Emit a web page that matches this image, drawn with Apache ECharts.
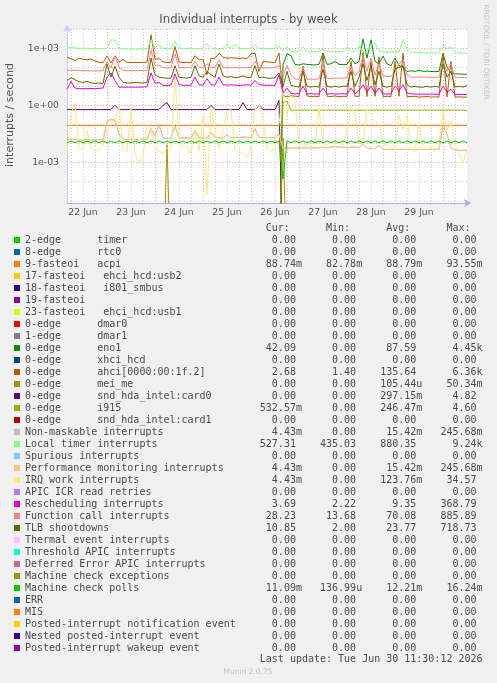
<!DOCTYPE html>
<html>
<head>
<meta charset="utf-8">
<title>Individual interrupts - by week</title>
<script src="https://cdn.jsdelivr.net/npm/echarts@6/dist/echarts.min.js"></script>
<style>
	html, body { margin: 0; padding: 0; background: #f0f0f0; }
	#chartDiv { width: 497px; height: 683px; }
</style>
</head>
<body>
<div id="chartDiv"></div>
<script>
	// x = hours since 22 Jun 00:00, one sample every 2 hours
	var hoursStart = 4;
	var stepHours = 2;
	var dayLabels = ['22 Jun', '23 Jun', '24 Jun', '25 Jun', '26 Jun', '27 Jun', '28 Jun', '29 Jun'];
	var labelHours = [12, 36, 60, 84, 108, 132, 156, 180];
	var midnightHours = [24, 48, 72, 96, 120, 144, 168, 192];
	var sixHourMarks = [6, 12, 18, 30, 36, 42, 54, 60, 66, 78, 84, 90, 102, 108, 114, 126, 132, 138,
		150, 156, 162, 174, 180, 186, 198];
	var yMajorTicks = [1e-3, 1, 1e3];
	var yMinorTicks = [1e-5, 1e-4, 1e-2, 1e-1, 10, 100, 1e4];

	var legendNames = ['2-edge      timer', '8-edge      rtc0', '9-fasteoi   acpi', '17-fasteoi   ehci_hcd:usb2',
		'18-fasteoi   i801_smbus', '19-fasteoi', '23-fasteoi   ehci_hcd:usb1', '0-edge      dmar0',
		'1-edge      dmar1', '0-edge      eno1', '0-edge      xhci_hcd', '0-edge      ahci[0000:00:1f.2]',
		'0-edge      mei_me', '0-edge      snd_hda_intel:card0', '0-edge      i915', '0-edge      snd_hda_intel:card1',
		'Non-maskable interrupts', 'Local timer interrupts', 'Spurious interrupts', 'Performance monitoring interrupts',
		'IRQ work interrupts', 'APIC ICR read retries', 'Rescheduling interrupts', 'Function call interrupts',
		'TLB shootdowns', 'Thermal event interrupts', 'Threshold APIC interrupts', 'Deferred Error APIC interrupts',
		'Machine check exceptions', 'Machine check polls', 'ERR', 'MIS', 'Posted-interrupt notification event',
		'Nested posted-interrupt event', 'Posted-interrupt wakeup event'];
	var legendColors = ['#00CC00', '#0066B3', '#FF8000', '#FFCC00', '#330099', '#990099', '#CCFF00', '#FF0000',
		'#808080', '#008F00', '#00487D', '#B35A00', '#B38F00', '#6B006B', '#8FB300', '#B30000', '#BEBEBE',
		'#80FF80', '#80C9FF', '#FFC080', '#FFE680', '#AA80FF', '#EE00CC', '#FF8080', '#666600', '#FFBFFF',
		'#00FFCC', '#CC6699', '#999900', '#00CC00', '#0066B3', '#FF8000', '#FFCC00', '#330099', '#990099'];
	var curVals = ['0.00', '0.00', '88.74m', '0.00', '0.00', '0.00', '0.00', '0.00', '0.00', '42.09', '0.00', '2.68',
		'0.00', '0.00', '532.57m', '0.00', '4.43m', '527.31', '0.00', '4.43m', '4.43m', '0.00', '3.69', '28.23',
		'10.85', '0.00', '0.00', '0.00', '0.00', '11.09m', '0.00', '0.00', '0.00', '0.00', '0.00'];
	var minVals = ['0.00', '0.00', '82.78m', '0.00', '0.00', '0.00', '0.00', '0.00', '0.00', '0.00', '0.00', '1.40',
		'0.00', '0.00', '0.00', '0.00', '0.00', '435.03', '0.00', '0.00', '0.00', '0.00', '2.22', '13.68',
		'2.00', '0.00', '0.00', '0.00', '0.00', '136.99u', '0.00', '0.00', '0.00', '0.00', '0.00'];
	var avgVals = ['0.00', '0.00', '88.79m', '0.00', '0.00', '0.00', '0.00', '0.00', '0.00', '87.59', '0.00', '135.64',
		'105.44u', '297.15m', '246.47m', '0.00', '15.42m', '880.35', '0.00', '15.42m', '123.76m', '0.00', '9.35',
		'70.08', '23.77', '0.00', '0.00', '0.00', '0.00', '12.21m', '0.00', '0.00', '0.00', '0.00', '0.00'];
	var maxVals = ['0.00', '0.00', '93.55m', '0.00', '0.00', '0.00', '0.00', '0.00', '0.00', '4.45k', '0.00', '6.36k',
		'50.34m', '4.82', '4.60', '0.00', '245.68m', '9.24k', '0.00', '245.68m', '34.57', '0.00', '368.79',
		'885.89', '718.73', '0.00', '0.00', '0.00', '0.00', '16.24m', '0.00', '0.00', '0.00', '0.00', '0.00'];

	var acpiVals = [0.089, 0.089, 0.088, 0.089, 0.089, 0.089, 0.088, 0.089, 0.089, 0.089,
		0.089, 0.088, 0.089, 0.089, 0.089, 0.089, 0.089, 0.088, 0.089, 0.089,
		0.089, 0.089, 0.089, 0.088, 0.089, 0.089, 0.089, 0.089, 0.089, 0.088,
		0.089, 0.089, 0.089, 0.089, 0.088, 0.089, 0.089, 0.089, 0.089, 0.089,
		0.088, 0.089, 0.089, 0.089, 0.089, 0.089, 0.088, 0.089, 0.089, 0.089,
		0.089, 0.089, 0.088, 0.089, 0.089, 0.089, 0.089, 0.089, 0.088, 0.089,
		0.089, 0.089, 0.089, 0.089, 0.088, 0.089, 0.089, 0.089, 0.089, 0.089,
		0.088, 0.089, 0.089, 0.089, 0.089, 0.089, 0.088, 0.089, 0.089, 0.089,
		0.089, 0.089, 0.088, 0.089, 0.089, 0.089, 0.089, 0.089, 0.088, 0.089,
		0.089, 0.089, 0.089, 0.089, 0.088, 0.089, 0.089, 0.089, 0.089, 0.089,
		0.0887];
	var enoVals = [0, 0, 0, 0, 0, 0, 0, 0, 0, 0,
		0, 0, 0, 0, 0, 0, 0, 0, 0, 0,
		0, 0, 0, 0, 0, 0, 0, 0, 0, 0,
		0, 0, 0, 0, 0, 0, 0, 0, 0, 0,
		0, 0, 0, 0, 0, 0, 0, 0, 0, 0,
		0, 0, 0, 0, 130, 500, 400, 140, 130, 150,
		140, 135, 130, 140, 550, 140, 150, 200, 140, 135,
		140, 300, 150, 200, 3000, 300, 2700, 200, 150, 380,
		150, 120, 300, 120, 100, 60, 65, 60, 70, 60,
		62, 60, 58, 60, 500, 100, 50, 45, 44, 43,
		42.09];
	var ahciVals = [330, 280, 220, 300, 260, 240, 270, 210, 180, 170,
		390, 170, 380, 190, 250, 180, 175, 180, 175, 180,
		180, 5000, 260, 280, 190, 175, 180, 1200, 190, 175,
		180, 170, 400, 240, 250, 40, 300, 290, 550, 330,
		300, 310, 300, 290, 300, 280, 500, 550, 60, 200,
		190, 180, 170, 550, 3.2, 2.8, 3.2, 3.0, 2.9, 110,
		3.1, 2.9, 3.0, 2.8, 550, 3.0, 2.9, 3.1, 2.8, 3.0,
		2.9, 200, 3.0, 2.9, 600, 2.9, 200, 3.0, 350, 2.8,
		3.0, 2.9, 200, 3.0, 550, 2.8, 2.9, 3.0, 2.7, 2.8,
		2.9, 2.7, 2.8, 2.7, 550, 2.8, 200, 2.7, 2.8, 2.7,
		2.68];
	var meiVals = [0, 0, 0, 0, 0, 0, 0, 0, 0, 0,
		0, 0, 0, 0, 0, 0, 0, 0, 0, 0,
		0, 0, 0, 0, 0, 0.0087, 0, 0, 0, 0,
		0, 0, 0, 0, 0, 0, 0, 0, 0, 0,
		0, 0, 0, 0, 0, 0, 0, 0, 0, 0,
		0, 0, 0, 0, 0.02, 0, 0, 0, 0, 0,
		0, 0, 0, 0, 0, 0, 0, 0, 0, 0,
		0, 0, 0, 0, 0, 0, 0, 0, 0, 0,
		0, 0, 0, 0, 0, 0, 0, 0, 0, 0,
		0, 0, 0, 0, 0, 0, 0, 0, 0, 0,
		0];
	var card0Vals = [0.6, 0.6, 0.6, 0.6, 0.6, 0.6, 0.6, 0.6, 0.6, 0.6,
		0.6, 0.6, 1.0, 0.6, 0.6, 0.6, 0.6, 0.6, 0.6, 0.6,
		0.6, 0.6, 0.6, 0.6, 1.0, 1.4, 0.6, 0.6, 0.6, 0.6,
		0.6, 0.6, 0.6, 0.6, 0.6, 0.6, 1.0, 0.6, 0.6, 0.6,
		0.6, 0.6, 0.6, 0.6, 1.4, 0.6, 0.6, 0.6, 1.0, 0.6,
		0.6, 0.6, 0.6, 1.8, 0, 0, 0, 0, 0, 0,
		0, 0, 0, 0, 0, 0, 0, 0, 0, 0,
		0, 0, 0, 0, 0, 0, 0, 0, 0, 0,
		0, 0, 0, 0, 0, 0, 0, 0, 0, 0,
		0, 0, 0, 0, 0, 0, 0, 0, 0, 0,
		0];
	var i915Vals = [0, 0, 0, 0, 0, 0, 0, 0, 0, 0,
		0, 0, 0, 0, 0, 0, 0, 0, 0, 0,
		0, 0, 0, 0, 0, 0, 0, 0, 0, 0,
		0, 0, 0, 0, 0, 0, 0, 0, 0, 0,
		0, 0, 0, 0, 0, 0, 0, 0, 0, 0,
		0, 0, 0, 0, 1.4, 1.6, 0.56, 0.56, 0.56, 0.56,
		0.56, 0.56, 0.56, 0.56, 0.56, 0.56, 0.56, 0.56, 0.56, 0.56,
		0.56, 0.56, 0.56, 0.56, 0.56, 0.56, 0.56, 0.56, 0.56, 0.56,
		0.56, 0.56, 0.56, 0.56, 0.56, 0.56, 0.56, 0.56, 0.56, 0.56,
		0.56, 0.56, 0.56, 0.56, 0.56, 0.56, 0.56, 0.56, 0.56, 0.56,
		0.53];
	// NMI and performance monitoring counts are identical
	var pmiVals = [0.016, 0.017, 0.016, 0.016, 0.015, 0.016, 0.016, 0.015, 0.016, 0.016,
		0.15, 0.18, 0.17, 0.03, 0.017, 0.016, 0.017, 0.016, 0.016, 0.017,
		0.016, 0.06, 0.025, 0.1, 0.02, 0.018, 0.019, 0.08, 0.02, 0.019,
		0.02, 0.019, 0.05, 0.02, 0.019, 0.02, 0.04, 0.022, 0.02, 0.019,
		0.03, 0.02, 0.021, 0.02, 0.022, 0.021, 0.02, 0.06, 0.02, 0.021,
		0.02, 0.021, 0.02, 0.03, 0.006, 0.006, 0.0055, 0.006, 0.0058, 0.006,
		0.0056, 0.006, 0.0058, 0.006, 0.0062, 0.006, 0.0065, 0.007, 0.0065, 0.0065,
		0.006, 0.0065, 0.0065, 0.006, 0.009, 0.006, 0.0055, 0.0055, 0.008, 0.005,
		0.0048, 0.005, 0.0048, 0.005, 0.005, 0.0048, 0.005, 0.0046, 0.005, 0.0048,
		0.005, 0.0048, 0.005, 0.0047, 0.1, 0.03, 0.006, 0.0046, 0.0045, 0.0044,
		0.0044];
	var locVals = [1000, 1150, 1000, 990, 980, 970, 950, 940, 930, 920,
		950, 2700, 2600, 1000, 920, 910, 900, 900, 890, 900,
		900, 2700, 1050, 1500, 960, 940, 950, 2200, 1000, 960,
		950, 960, 950, 960, 950, 1700, 980, 960, 950, 960,
		1500, 960, 1600, 960, 950, 960, 950, 1500, 960, 950,
		960, 950, 960, 1300, 700, 1200, 660, 650, 655, 1150,
		650, 645, 650, 660, 900, 650, 655, 640, 650, 660,
		1100, 640, 660, 1300, 700, 650, 1600, 1900, 700, 620,
		640, 630, 650, 620, 2800, 900, 580, 570, 565, 560,
		560, 565, 555, 560, 1500, 900, 1200, 560, 550, 540,
		530];
	var iwiVals = [0.003, 0.35, 1.3, 0.006, 0.005, 0.05, 0.006, 0.004, 0.005, 0.007,
		0.05, 0.15, 0.15, 1.0, 0.005, 0.004, 0.8, 0.003, 0.001, 0.002,
		0.1, 0.06, 0.008, 0.004, 0.003, 0.006, 0.004, 30, 0.02, 0.005,
		0.008, 0.003, 0.05, 0.004, 0.3, 0.00002, 0.7, 0.05, 0.006, 0.05,
		0.5, 0.6, 0.005, 0.004, 0.003, 0.002, 0.006, 0.6, 1.2, 0.2,
		0.006, 0.004, 0.005, 0.1, 8, 0.3, 6, 1.5, 0.01, 0.008,
		0.009, 0.006, 0.008, 0.7, 0.01, 0.008, 0.015, 0.009, 0.012, 0.008,
		0.05, 0.8, 0.4, 0.01, 0.009, 0.6, 0.3, 0.15, 0.1, 0.01,
		0.008, 0.005, 0.007, 0.3, 0.05, 0.3, 0.006, 0.004, 0.1, 0.008,
		0.005, 0.006, 0.004, 0.007, 0.5, 0.05, 0.15, 0.008, 0.003, 0.001,
		0.0044];
	var resVals = [7, 18, 8, 7.5, 7.5, 7.5, 7.6, 7.5, 7.8, 8,
		30, 50, 20, 9, 9, 9, 9, 9, 9, 9,
		9.5, 50, 14, 16, 11, 11, 11.5, 45, 12, 11.5,
		11, 11.5, 30, 12, 11.5, 25, 12, 11.5, 30, 12,
		11.5, 12, 11.5, 11, 11.5, 12, 11.5, 20, 12, 11.5,
		11, 11.5, 11, 40, 4.5, 8, 4.2, 4.0, 4.2, 10,
		4.0, 4.1, 3.9, 4.0, 8, 4.0, 4.1, 3.9, 4.0, 4.1,
		3.9, 8, 4.0, 6, 12, 5, 10, 4.2, 8, 4.0,
		3.9, 4.0, 10, 6, 12, 4.5, 4.0, 3.9, 3.8, 3.9,
		3.8, 3.9, 3.8, 3.8, 10, 5, 7, 3.8, 3.7, 3.7,
		3.69];
	var calVals = [72, 70, 68, 66, 66, 65, 64, 65, 64, 66,
		200, 90, 400, 100, 68, 66, 66, 65, 66, 66,
		66, 800, 120, 130, 95, 92, 94, 500, 98, 95,
		94, 95, 200, 96, 95, 150, 97, 96, 250, 95,
		94, 96, 95, 94, 95, 96, 94, 200, 95, 94,
		93, 92, 94, 120, 35, 120, 40, 24, 23, 100,
		23, 24, 23, 24, 150, 26, 25, 27, 26, 27,
		28, 110, 35, 60, 400, 60, 300, 40, 150, 35,
		33, 32, 60, 150, 250, 40, 30, 30, 31, 30,
		30, 29, 30, 29, 200, 60, 150, 30, 29, 28,
		28.23];
	var tlbVals = [20, 28, 22, 17, 16, 18, 15, 14, 15, 14,
		150, 30, 110, 30, 16, 15, 15, 16, 15, 15,
		16, 300, 40, 30, 28, 26, 27, 120, 30, 28,
		27, 30, 120, 35, 30, 60, 40, 30, 150, 35,
		30, 32, 28, 30, 35, 28, 30, 120, 28, 30,
		27, 26, 28, 50, 10, 60, 11, 10, 9, 60,
		10, 9, 10, 9, 80, 10, 9, 10, 9, 10,
		10, 60, 10, 30, 150, 20, 120, 12, 60, 10,
		9, 10, 80, 100, 120, 12, 9, 10, 9, 9,
		10, 9, 10, 9, 150, 30, 60, 9, 10, 9,
		10.85];
	var mcpVals = [0.011, 0.0135, 0.011, 0.0135, 0.011, 0.0135, 0.011, 0.0135, 0.011, 0.0135,
		0.011, 0.0135, 0.011, 0.0135, 0.011, 0.0135, 0.011, 0.0135, 0.011, 0.0135,
		0.011, 0.0135, 0.011, 0.0135, 0.011, 0.0135, 0.011, 0.0135, 0.011, 0.0135,
		0.011, 0.0135, 0.011, 0.0135, 0.011, 0.0135, 0.011, 0.0135, 0.011, 0.0135,
		0.011, 0.0135, 0.011, 0.0135, 0.011, 0.0135, 0.011, 0.0135, 0.011, 0.0135,
		0.011, 0.0135, 0.011, 0.0135, 0.00014, 0.0135, 0.011, 0.0135, 0.011, 0.0135,
		0.011, 0.0135, 0.011, 0.0135, 0.011, 0.0135, 0.011, 0.0135, 0.011, 0.0135,
		0.011, 0.0135, 0.011, 0.0135, 0.011, 0.0135, 0.011, 0.0135, 0.011, 0.0135,
		0.011, 0.0135, 0.011, 0.0135, 0.011, 0.0135, 0.011, 0.0135, 0.011, 0.0135,
		0.011, 0.0135, 0.011, 0.0135, 0.011, 0.0135, 0.011, 0.0135, 0.011, 0.0135,
		0.0111];

	// legend index -> values; every other counter stayed at 0 all week
	var seriesVals = {2: acpiVals, 9: enoVals, 11: ahciVals, 12: meiVals, 13: card0Vals, 14: i915Vals,
		16: pmiVals, 17: locVals, 19: pmiVals, 20: iwiVals, 22: resVals, 23: calVals, 24: tlbVals, 29: mcpVals};

	var FLOOR = 1e-9; // a zero sits below the log axis, rrdtool draws it at the bottom edge
	var monoFont = 'DejaVu Sans Mono';
	var textColor = '#4a4a4a';

	function valField(s) {
		var last = s.charAt(s.length - 1);
		if (/[a-z]/i.test(last)) {
			return s.slice(0, -1).padStart(9) + last;
		}
		return s.padStart(9) + ' ';
	}
	function expLabel(v) {
		var e = Math.round(Math.log10(v));
		return '1e' + (e < 0 ? '-' : '+') + String(Math.abs(e)).padStart(2, '0');
	}

	var series = legendNames.map(function(name, k) {
		var vals = seriesVals[k] || [];
		return {
			name: name,
			type: 'line',
			xAxisIndex: 0,
			yAxisIndex: 0,
			color: legendColors[k],
			showSymbol: false,
			symbol: 'none',
			clip: true,
			lineStyle: { width: 1, color: legendColors[k] },
			emphasis: { disabled: true },
			data: vals.map(function(v, i) {
				return [hoursStart + stepHours * i, v > 0 ? v : FLOOR];
			})
		};
	});

	var chart = echarts.init(document.getElementById('chartDiv'), null, { renderer: 'canvas' });
	chart.setOption({
		animation: false,
		backgroundColor: '#f0f0f0',
		title: {
			text: 'Individual interrupts - by week',
			left: 'center',
			top: 13.5,
			padding: 0,
			textStyle: { fontFamily: 'DejaVu Sans', fontSize: 11.7, fontWeight: 'normal', color: '#555' }
		},
		grid: {
			left: 67, right: 30, top: 29, bottom: 480,
			show: true, backgroundColor: '#ffffff', borderWidth: 0
		},
		xAxis: [{
			type: 'value', min: 4, max: 204, position: 'bottom',
			axisLine: { show: true, lineStyle: { color: '#b7a6ea', width: 1 },
				symbol: ['none', 'arrow'], symbolSize: [6, 7], symbolOffset: [0, 4] },
			axisTick: { show: false, customValues: sixHourMarks },
			splitLine: { show: true, lineStyle: { color: '#c9c9c9', type: [1, 2], width: 1 } },
			axisLabel: {
				customValues: labelHours,
				margin: 5,
				fontFamily: 'DejaVu Sans', fontSize: 9.3, color: '#555',
				formatter: function(v) { return dayLabels[labelHours.indexOf(v)] || ''; }
			}
		}, {
			type: 'value', min: 4, max: 204, position: 'top',
			axisLine: { show: false },
			axisTick: { show: false, customValues: midnightHours },
			axisLabel: { show: false },
			splitLine: { show: true, lineStyle: { color: '#ef9f9f', type: [1, 2], width: 1 } }
		}],
		yAxis: [{
			type: 'log', logBase: 10, min: Math.pow(10, -5.115), max: 1e4, position: 'left',
			axisLine: { show: true, lineStyle: { color: '#c5cdf5', width: 1 },
				symbol: ['none', 'arrow'], symbolSize: [6, 7], symbolOffset: [0, 4] },
			axisTick: { show: false, customValues: yMajorTicks },
			splitLine: { show: true, lineStyle: { color: '#ef9f9f', type: [1, 2], width: 1 } },
			axisLabel: {
				customValues: yMajorTicks,
				margin: 8,
				fontFamily: 'DejaVu Sans', fontSize: 9.3, color: '#555',
				formatter: function(v) { return expLabel(v); }
			}
		}, {
			type: 'log', logBase: 10, min: Math.pow(10, -5.115), max: 1e4, position: 'right',
			axisLine: { show: false },
			axisTick: { show: false, customValues: yMinorTicks },
			axisLabel: { show: false },
			splitLine: { show: true, lineStyle: { color: '#c9c9c9', type: [1, 2], width: 1 } }
		}],
		legend: {
			orient: 'vertical',
			left: 14,
			top: 234,
			itemGap: 0,
			itemWidth: 6,
			itemHeight: 6,
			icon: 'rect',
			selectedMode: false,
			padding: 0,
			data: legendNames,
			textStyle: { fontFamily: monoFont, fontSize: 10, color: textColor, lineHeight: 12 },
			formatter: function(name) {
				var k = legendNames.indexOf(name);
				return name.padEnd(36) + valField(curVals[k]) + valField(minVals[k]) +
					valField(avgVals[k]) + valField(maxVals[k]);
			}
		},
		graphic: [{
			type: 'text', x: 10, y: 115, rotation: Math.PI / 2,
			style: { text: 'interrupts / second', fontFamily: 'DejaVu Sans', fontSize: 11,
				fill: '#555', align: 'center', verticalAlign: 'middle' }
		}, {
			type: 'text', x: 486, y: 52, rotation: -Math.PI / 2,
			style: { text: 'RRDTOOL / TOBI OETIKER', fontFamily: 'DejaVu Sans', fontSize: 7.4,
				fill: '#c4c4c4', align: 'center', verticalAlign: 'middle' }
		}, {
			type: 'text', x: 25 + 40 * 6.02, y: 228,
			style: { text: 'Cur:      Min:      Avg:      Max:', fontFamily: monoFont, fontSize: 10,
				fill: textColor, align: 'left', verticalAlign: 'middle' }
		}, {
			type: 'text', x: 25 + 39 * 6.02, y: 659.5,
			style: { text: 'Last update: Tue Jun 30 11:30:12 2026', fontFamily: monoFont, fontSize: 10,
				fill: textColor, align: 'left', verticalAlign: 'middle' }
		}, {
			type: 'text', x: 248, y: 672,
			style: { text: 'Munin 2.0.75', fontFamily: 'DejaVu Sans', fontSize: 7.5,
				fill: '#c0c0c0', align: 'center', verticalAlign: 'middle' }
		}],
		series: series
	});
</script>
</body>
</html>
